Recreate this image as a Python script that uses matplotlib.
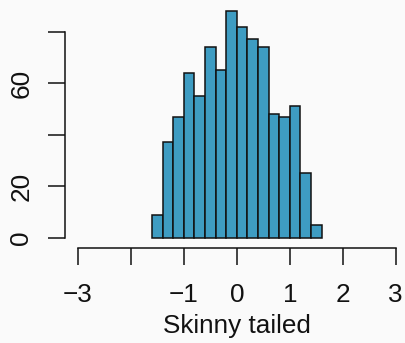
import matplotlib
matplotlib.use("Agg")
import matplotlib.pyplot as plt
import numpy as np

bin_edges = [-1.6, -1.4, -1.2, -1.0, -0.8, -0.6, -0.4, -0.2, 0.0,
             0.2, 0.4, 0.6, 0.8, 1.0, 1.2, 1.4, 1.6]
counts = [9, 37, 47, 64, 55, 74, 65, 88, 82, 77, 74, 48, 47, 51, 25, 5]
x_ticks = [-3, -2, -1, 0, 1, 2, 3]
x_tick_labels = ["\u22123", "", "\u22121", "0", "1", "2", "3"]
y_ticks = [0, 20, 40, 60, 80]
y_tick_labels = ["0", "20", "", "60", ""]
x_label = "Skinny tailed"

bg = "#FAFAFA"
bar_color = "#3E9CC2"
fs = 18.8

plt.rcParams["font.family"] = ["Liberation Sans", "DejaVu Sans"]

fig = plt.figure(figsize=(4.05, 3.43), dpi=100, facecolor=bg)
W, H = 405, 343
L, R, B, T = 65.3, 408.4, 246.8, 2.0
ax = fig.add_axes([L / W, (H - B) / H, (R - L) / W, (B - T) / H])
ax.set_facecolor(bg)
ax.patch.set_alpha(0)

lefts = np.array(bin_edges[:-1])
widths = np.diff(bin_edges)
ax.bar(lefts, counts, width=widths, align="edge", color=bar_color,
       edgecolor="#111111", linewidth=1.1)

ax.set_xlim(-3.24, 3.24)
ax.set_ylim(-3.52, 91.52)

for s in ["top", "right"]:
    ax.spines[s].set_visible(False)
ax.spines["left"].set_bounds(0, 80)
ax.spines["bottom"].set_bounds(-3, 3)
ax.spines["bottom"].set_position(("outward", 1))
for s in ["left", "bottom"]:
    ax.spines[s].set_linewidth(1.1)
    ax.spines[s].set_color("#111111")

ax.set_xticks(x_ticks)
ax.set_xticklabels(x_tick_labels)
ax.set_yticks(y_ticks)
ax.set_yticklabels(y_tick_labels, rotation=90, va="center")
ax.tick_params(axis="both", direction="out", length=12, width=1.1,
               color="#111111", labelsize=fs, labelcolor="#111111")
ax.tick_params(axis="x", pad=13)
ax.tick_params(axis="y", pad=11)

ax.set_xlabel(x_label, fontsize=fs, color="#111111", labelpad=5)

fig.savefig("out.png", dpi=100, facecolor=bg)
